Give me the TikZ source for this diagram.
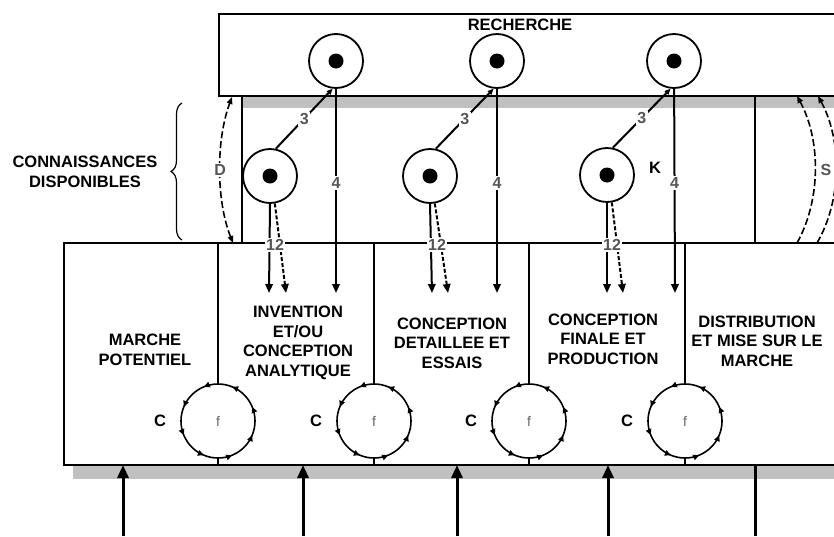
\documentclass[tikz,border=0pt]{standalone}
\usepackage{fontspec}
\setmainfont{Liberation Sans}
\usepackage{tikz}
\usetikzlibrary{positioning, arrows.meta, decorations.markings, decorations.pathreplacing}

\definecolor{shadowgray}{RGB}{192,192,192}
\definecolor{labelgray}{RGB}{85,85,85}

\tikzset{
  box line/.style={line width=2.2pt},
  thin line/.style={line width=1.3pt},
  shadow/.style={fill=shadowgray},
  rcircle/.style={circle, draw, line width=1.8pt, minimum size=54pt, inner sep=0pt,
    path picture={\fill (path picture bounding box.center) circle[radius=7.5pt];}},
  fcircle/.style={circle, draw, line width=1.6pt, minimum size=74pt, inner sep=0pt,
    font=\fontsize{14}{14}\selectfont, text=black!60,
    postaction={decorate, decoration={markings,
      mark=between positions 0.0625 and 1 step 0.125 with {\arrow{Triangle[length=6pt,width=5.5pt]}}}}},
  txt/.style={font=\bfseries\fontsize{16.5}{19.5}\selectfont, align=center, inner sep=2pt},
  lbl/.style={font=\bfseries\fontsize{16}{16}\selectfont, text=labelgray, fill=white, inner sep=1.5pt},
  link/.style={line width=2pt},
  small arrow/.style={line width=2pt, -{Triangle[length=9pt,width=7.5pt]}},
  big arrow/.style={line width=3pt, -{Triangle[length=13pt,width=11pt]}},
  dlink/.style={line width=1.6pt, dash pattern=on 7pt off 3pt},
  dtip/.style={{Triangle[length=7pt,width=5.5pt]}-{Triangle[length=7pt,width=5.5pt]}},
  stip/.style={-{Triangle[length=7pt,width=5.5pt]}},
}

\begin{document}
\begin{tikzpicture}[x=1pt, y=-1pt]
    \useasboundingbox (0,0) rectangle (834,536);
    \clip (0,0) rectangle (834,536);

    % Shadows
    \fill[shadow] (242,96) rectangle (834,108);
    \fill[shadow] (73,465) rectangle (834,479);

    % Boxes
    \draw[box line] (840,14) -- (219,14) -- (219,96) -- (840,96);
    \draw[box line] (840,243) -- (64,243) -- (64,465) -- (840,465);
    \draw[box line] (242,96) -- (242,243);
    \draw[thin line] (755,96) -- (755,243);
    \coordinate (lowtop) at (0,243);
    \coordinate (lowbot) at (0,465);

    % Research nodes
    \node (rech) [txt] at (520,25) {RECHERCHE};
    \node (r1) [rcircle] at (336,61) {};
    \node (r2) [rcircle] at (497,61) {};
    \node (r3) [rcircle] at (674,61) {};

    % Knowledge nodes
    \node (k1) [rcircle] at (270,176) {};
    \node (k2) [rcircle] at (430,176) {};
    \node (k3) [rcircle] at (607,175) {};
    \node (kk) [txt] at (655,168) {K};
    \node (conn) [txt, align=center] at (85,172) {CONNAISSANCES\\DISPONIBLES};
    \draw[decorate, decoration={brace, amplitude=11pt}, line width=1.2pt] (182,240) -- (182,103);

    % Feedback loops
    \node (f1) [fcircle] at (218,421) {f};
    \node (f2) [fcircle] at (374,421) {f};
    \node (f3) [fcircle] at (529,421) {f};
    \node (f4) [fcircle] at (685,421) {f};
    \node (c1) [txt, left=12pt of f1] {C};
    \node (c2) [txt, left=12pt of f2] {C};
    \node (c3) [txt, left=12pt of f3] {C};
    \node (c4) [txt, left=12pt of f4] {C};

    % Dividers
    \draw[link] (f1) -- (f1 |- lowtop);
    \draw[link] (f2) -- (f2 |- lowtop);
    \draw[link] (f3) -- (f3 |- lowtop);
    \draw[link] (f4) -- (f4 |- lowtop);
    \draw[link] (f1) -- (f1 |- lowbot);
    \draw[link] (f2) -- (f2 |- lowbot);
    \draw[link] (f3) -- (f3 |- lowbot);
    \draw[link] (f4) -- (f4 |- lowbot);

    % Stages
    \node (s1) [txt] at (145,350) {MARCHE\\POTENTIEL};
    \node (s2) [txt] at (298,343) {INVENTION\\ET/OU\\CONCEPTION\\ANALYTIQUE};
    \node (s3) [txt] at (452,343) {CONCEPTION\\DETAILLEE ET\\ESSAIS};
    \node (s4) [txt] at (603,339) {CONCEPTION\\FINALE ET\\PRODUCTION};
    \node (s5) [txt] at (757,341) {DISTRIBUTION\\ET MISE SUR LE\\MARCHE};

    % Links 3 and 4
    \coordinate (d1) at (336,293);
    \coordinate (d2) at (497,293);
    \coordinate (d3) at (675,293);
    \draw[link, {Triangle[length=6pt,width=5pt]}-] (r1.263) -- node[lbl] {3} (k1.78);
    \draw[link, {Triangle[length=6pt,width=5pt]}-] (r2.263) -- node[lbl] {3} (k2.78);
    \draw[link, {Triangle[length=6pt,width=5pt]}-] (r3.263) -- node[lbl] {3} (k3.78);
    \draw[small arrow] (r1) -- node[lbl, pos=0.46] {4} (d1);
    \draw[small arrow] (r2) -- node[lbl, pos=0.46] {4} (d2);
    \draw[small arrow] (r3) -- node[lbl, pos=0.46] {4} (d3);

    % Links 1 and 2
    \coordinate (a1) at (269,293);
    \coordinate (b1) at (286,293);
    \coordinate (a2) at (432,293);
    \coordinate (b2) at (448,293);
    \coordinate (a3) at (607,293);
    \coordinate (b3) at (623,293);
    \draw[small arrow] (k1.south) -- (a1);
    \draw[small arrow, dash pattern=on 4pt off 2pt] (k1.-80) -- (b1);
    \draw[small arrow] (k2.south) -- (a2);
    \draw[small arrow, dash pattern=on 4pt off 2pt] (k2.-80) -- (b2);
    \draw[small arrow] (k3.south) -- (a3);
    \draw[small arrow, dash pattern=on 4pt off 2pt] (k3.-80) -- (b3);
    \node (n1) [lbl] at (275,245) {12};
    \node (n2) [lbl] at (437,245) {12};
    \node (n3) [lbl] at (612,245) {12};

    % D and S
    \coordinate (dbot) at (233,243);
    \coordinate (dtop) at (232,97);
    \draw[dlink, dtip] (dbot) .. controls (216,200) and (216,140) .. node[lbl] {D} (dtop);
    \coordinate (sbot1) at (797,243);
    \coordinate (stop1) at (797,96);
    \coordinate (sbot2) at (817,243);
    \coordinate (stop2) at (818,96);
    \draw[dlink, stip] (sbot1) .. controls (821,200) and (821,140) .. (stop1);
    \draw[dlink, stip] (sbot2) .. controls (842,200) and (842,140) .. (stop2);
    \node (sl) [lbl] at (826,170) {S};

    % Inputs from below
    \coordinate (e1) at (123,536);
    \coordinate (e2) at (303,536);
    \coordinate (e3) at (457,536);
    \coordinate (e4) at (608,536);
    \coordinate (e5) at (755,536);
    \draw[big arrow] (e1) -- (e1 |- lowbot);
    \draw[big arrow] (e2) -- (e2 |- lowbot);
    \draw[big arrow] (e3) -- (e3 |- lowbot);
    \draw[big arrow] (e4) -- (e4 |- lowbot);
    \draw[line width=3pt] (e5) -- (e5 |- lowbot);
\end{tikzpicture}
\end{document}
